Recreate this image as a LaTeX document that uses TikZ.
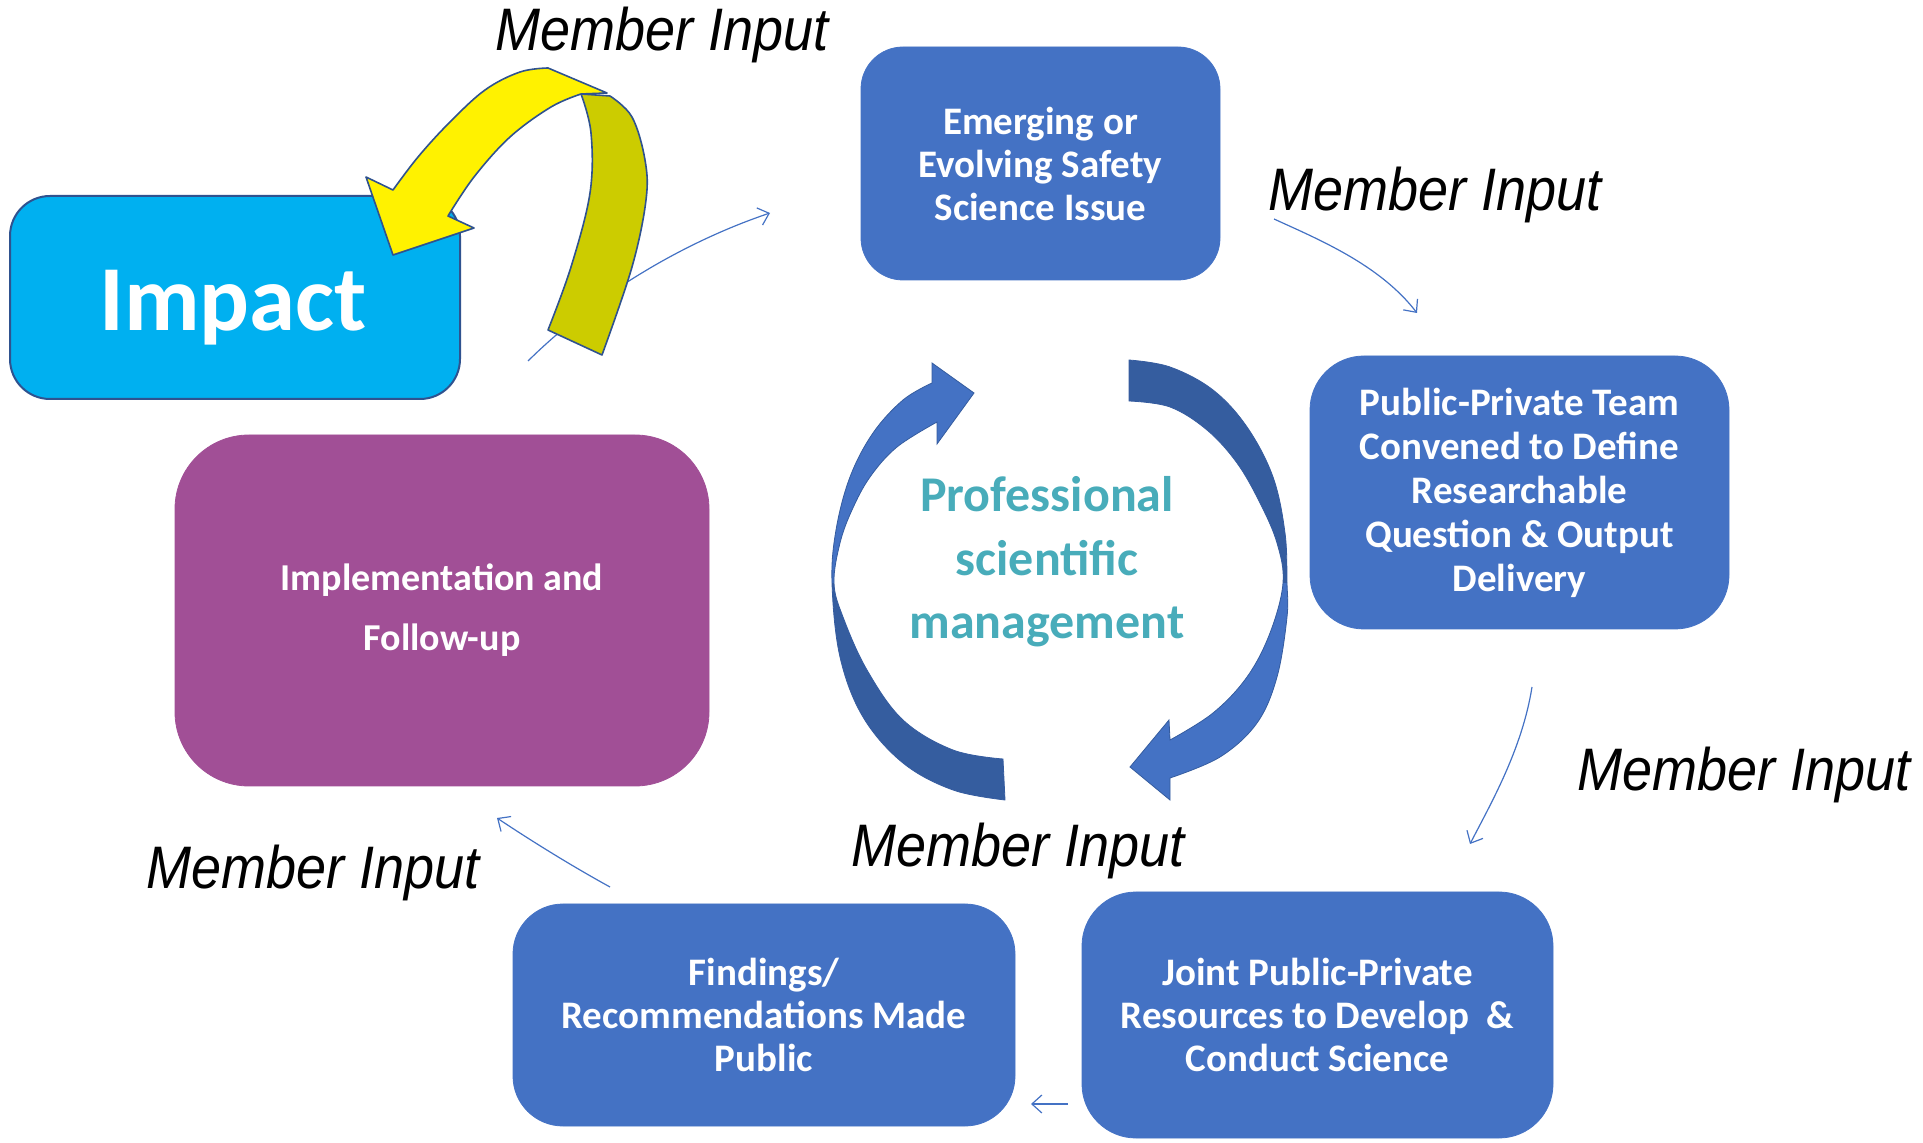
\documentclass[tikz,border=0pt]{standalone}
\usepackage{fontspec}
\setmainfont{Carlito}
\newfontfamily\mifont[FakeStretch=0.9]{Liberation Sans}
\usetikzlibrary{arrows.meta}
\definecolor{boxblue}{HTML}{4472C4}
\definecolor{darkarr}{HTML}{355D9F}
\definecolor{impactcyan}{HTML}{00B0F0}
\definecolor{edgeblue}{HTML}{2F528F}
\definecolor{purplebox}{HTML}{A14F96}
\definecolor{olivearr}{HTML}{CCCC00}
\definecolor{profteal}{RGB}{72,172,186}
\begin{document}
\begin{tikzpicture}[x=0.5pt,y=-0.5pt,
  stepbox/.style={fill=boxblue, draw=boxblue, rounded corners=#1, text=white,
    font=\bfseries\fontsize{19.5}{21.5}\selectfont, align=center, inner sep=0pt},
  mlabel/.style={font=\mifont\itshape\fontsize{30}{36}\selectfont, anchor=base, inner sep=0pt, text=black},
  conn/.style={draw=boxblue, line width=0.6pt, -{Straight Barb[length=5pt,width=9pt]}},
  arrline/.style={draw=edgeblue, line width=0.8pt, line join=round}
]
\useasboundingbox (0,0) rectangle (1923,1143);

% boxes
\node[draw=edgeblue, line width=1pt, fill=impactcyan, rounded corners=20pt,
  minimum width=225pt, minimum height=101.5pt, inner sep=0pt] (impact) at (235,297.5) {};
\node[anchor=base, text=white, font=\bfseries\fontsize{46.5}{50}\selectfont, inner sep=0pt] (impactlbl) at (233,331) {Impact};

\node[stepbox=21pt, minimum width=179.5pt, minimum height=116.5pt] (emerg) at (1040.5,163.5)
  {Emerging or\\Evolving Safety\\Science Issue};
\node[stepbox=27pt, minimum width=209.5pt, minimum height=136.5pt,
  font=\bfseries\fontsize{19.5}{22}\selectfont] (team) at (1519.5,492.5)
  {Public-Private Team\\Convened to Define\\Researchable\\Question \& Output\\Delivery};
\node[stepbox=27pt, minimum width=235.5pt, minimum height=123pt] (joint) at (1317.5,1015)
  {Joint Public-Private\\Resources to Develop\ \ \&\\Conduct Science};
\node[stepbox=25pt, minimum width=251pt, minimum height=111pt] (find) at (764,1015)
  {Findings/\\Recommendations Made\\Public};
\node[stepbox=37pt, fill=purplebox, draw=purplebox, minimum width=267pt, minimum height=175.5pt,
  font=\bfseries\fontsize{19}{30}\selectfont] (impl) at (442,610.5)
  {Implementation and\\Follow-up};

% central circular arrows
\def\LAshape{(932,383) -- plot[smooth,tension=0.6] coordinates {(932,383) (903,400) (873,433) (850,477) (836,530) (832,583) (840,657) (863,717) (903,763) (953,790) (1005,800)}
  -- (1003,759) -- plot[smooth,tension=0.6] coordinates {(1003,759) (953,750) (903,720) (867,670) (843,617) (834,583) (840,543) (852,510) (870,477) (897,447) (937,422)}
  -- (937,444) -- (974,393) -- (932,363) -- cycle}
\def\RAshape{(1129,360) -- plot[smooth,tension=0.6] coordinates {(1129,360) (1170,367) (1213,390) (1247,427) (1273,477) (1285,533) (1287,583) (1287,617) (1277,677) (1257,723) (1220,757) (1170,778)}
  -- (1170,800) -- (1130,767) -- (1169,720) -- (1170,740)
  -- plot[smooth,tension=0.6] coordinates {(1170,740) (1213,713) (1247,677) (1270,633) (1283,583) (1277,543) (1260,503) (1237,463) (1207,430) (1170,407) (1129,401)} -- cycle}
\begin{scope}
  \clip \LAshape;
  \fill[boxblue] (800,340) rectangle (1020,583);
  \fill[darkarr] (800,583) rectangle (1020,820);
\end{scope}
\draw[edgeblue!70!boxblue, line width=0.4pt] \LAshape;
\begin{scope}
  \clip \RAshape;
  \fill[darkarr] (1100,340) rectangle (1300,583);
  \fill[boxblue] (1100,583) rectangle (1300,820);
\end{scope}
\draw[edgeblue!70!boxblue, line width=0.4pt] \RAshape;

\node[text=profteal, font=\bfseries\fontsize{25}{31.75}\selectfont, align=center, inner sep=0pt] (prof) at (1047,562)
  {Professional\\scientific\\management};

% thin connectors
\coordinate (c1s) at (528,361);
\coordinate (c1e) at (770,213);
\coordinate (c2s) at (1274,219);
\coordinate (c2e) at (1417,313);
\coordinate (c3s) at (1532,687);
\coordinate (c3e) at (1470,844);
\coordinate (c4s) at (1068,1104);
\coordinate (c4e) at (1031,1104);
\coordinate (c5s) at (610,887);
\coordinate (c5e) at (497,818);
\draw[conn] (c1s) .. controls (600,290) and (690,240) .. (c1e);
\draw[conn] (c2s) .. controls (1320,240) and (1380,265) .. (c2e);
\draw[conn] (c3s) .. controls (1522,750) and (1490,805) .. (c3e);
\draw[conn] (c4s) -- (c4e);
\draw[conn] (c5s) .. controls (570,865) and (530,840) .. (c5e);

% yellow curved arrow
\fill[olivearr] (581,94) -- (610,96) -- plot[smooth,tension=0.6] coordinates {(610,96) (632,117) (645,160) (646,200) (632,267) (602,355)}
  -- (548,330) -- plot[smooth,tension=0.6] coordinates {(548,330) (571,267) (590,193) (591,133) (581,94)} -- cycle;
\draw[arrline] (581,94) -- (610,96) -- plot[smooth,tension=0.6] coordinates {(610,96) (632,117) (645,160) (646,200) (632,267) (602,355)}
  -- (548,330) -- plot[smooth,tension=0.6] coordinates {(548,330) (571,267) (590,193) (591,133) (581,94)} -- cycle;
\fill[yellow] (393,190) -- plot[smooth,tension=0.6] coordinates {(393,190) (418,157) (449,123) (485,90) (520,72) (548,68)}
  -- (607,93) -- (581,94) -- plot[smooth,tension=0.6] coordinates {(581,94) (551,107) (510,137) (474,177) (448,216)}
  -- (474,228) -- (393,255) -- (366,177) -- cycle;
\draw[arrline] (393,190) -- plot[smooth,tension=0.6] coordinates {(393,190) (418,157) (449,123) (485,90) (520,72) (548,68)}
  -- (607,93) -- (581,94) -- plot[smooth,tension=0.6] coordinates {(581,94) (551,107) (510,137) (474,177) (448,216)}
  -- (474,228) -- (393,255) -- (366,177) -- cycle;

% member input labels
\node[mlabel] (mi1) at (662,51) {Member Input};
\node[mlabel] (mi2) at (1435,211) {Member Input};
\node[mlabel] (mi3) at (1744,791) {Member Input};
\node[mlabel] (mi4) at (1018,867) {Member Input};
\node[mlabel] (mi5) at (313,889) {Member Input};
\end{tikzpicture}
\end{document}
